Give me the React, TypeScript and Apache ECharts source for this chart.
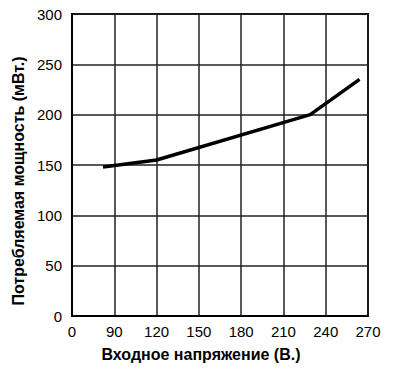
import React, { useEffect, useRef } from "react";
import * as echarts from "echarts";

// Display axis: the first interval is a break, the leftmost tick is labelled "0"
const xMin = 60;
const xMax = 270;
const xStep = 30;
const voltage = [82, 120, 229, 264];
const power = [148, 155, 200, 235];

export default function App() {
  const ref = useRef<HTMLDivElement>(null);
  useEffect(() => {
    const chart = echarts.init(ref.current!, undefined, { renderer: "svg" });
    const font = "Liberation Sans, Arial, Helvetica, sans-serif";
    chart.setOption({
      animation: false,
      backgroundColor: "#fff",
      grid: {
        left: 72,
        top: 14,
        right: 32,
        bottom: 57,
        show: true,
        borderColor: "#000",
        borderWidth: 2,
        backgroundColor: "transparent",
      },
      xAxis: {
        type: "value",
        min: xMin,
        max: xMax,
        interval: xStep,
        name: "Входное напряжение (В.)",
        nameLocation: "middle",
        nameGap: 30,
        nameTextStyle: {
          fontFamily: font,
          fontSize: 16,
          fontWeight: "bold",
          color: "#000",
          padding: [0, 38, 0, 0],
        },
        axisLine: { show: true, lineStyle: { color: "#000", width: 2 } },
        axisTick: { show: false },
        axisLabel: {
          fontFamily: font,
          fontSize: 15,
          color: "#000",
          margin: 8,
          formatter: (v: number) => (v === xMin ? "0" : String(v)),
        },
        splitLine: { show: true, lineStyle: { color: "#222", width: 1.5 } },
      },
      yAxis: {
        type: "value",
        min: 0,
        max: 300,
        interval: 50,
        name: "Потребляемая мощность (мВт.)",
        nameLocation: "middle",
        nameGap: 44,
        nameTextStyle: {
          fontFamily: font,
          fontSize: 16,
          fontWeight: "bold",
          color: "#000",
          padding: [0, 32, 0, 0],
        },
        axisLine: { show: true, lineStyle: { color: "#000", width: 2 } },
        axisTick: { show: false },
        axisLabel: { fontFamily: font, fontSize: 15, color: "#000", margin: 10 },
        splitLine: { show: true, lineStyle: { color: "#222", width: 1.5 } },
      },
      series: [
        {
          type: "line",
          data: voltage.map((v, i) => [v, power[i]]),
          showSymbol: false,
          symbol: "none",
          lineStyle: { color: "#000", width: 3.5 },
        },
      ],
    });
    return () => chart.dispose();
  }, []);
  return <div ref={ref} style={{ width: 400, height: 373, position: "absolute", left: 0, top: 0 }} />;
}
